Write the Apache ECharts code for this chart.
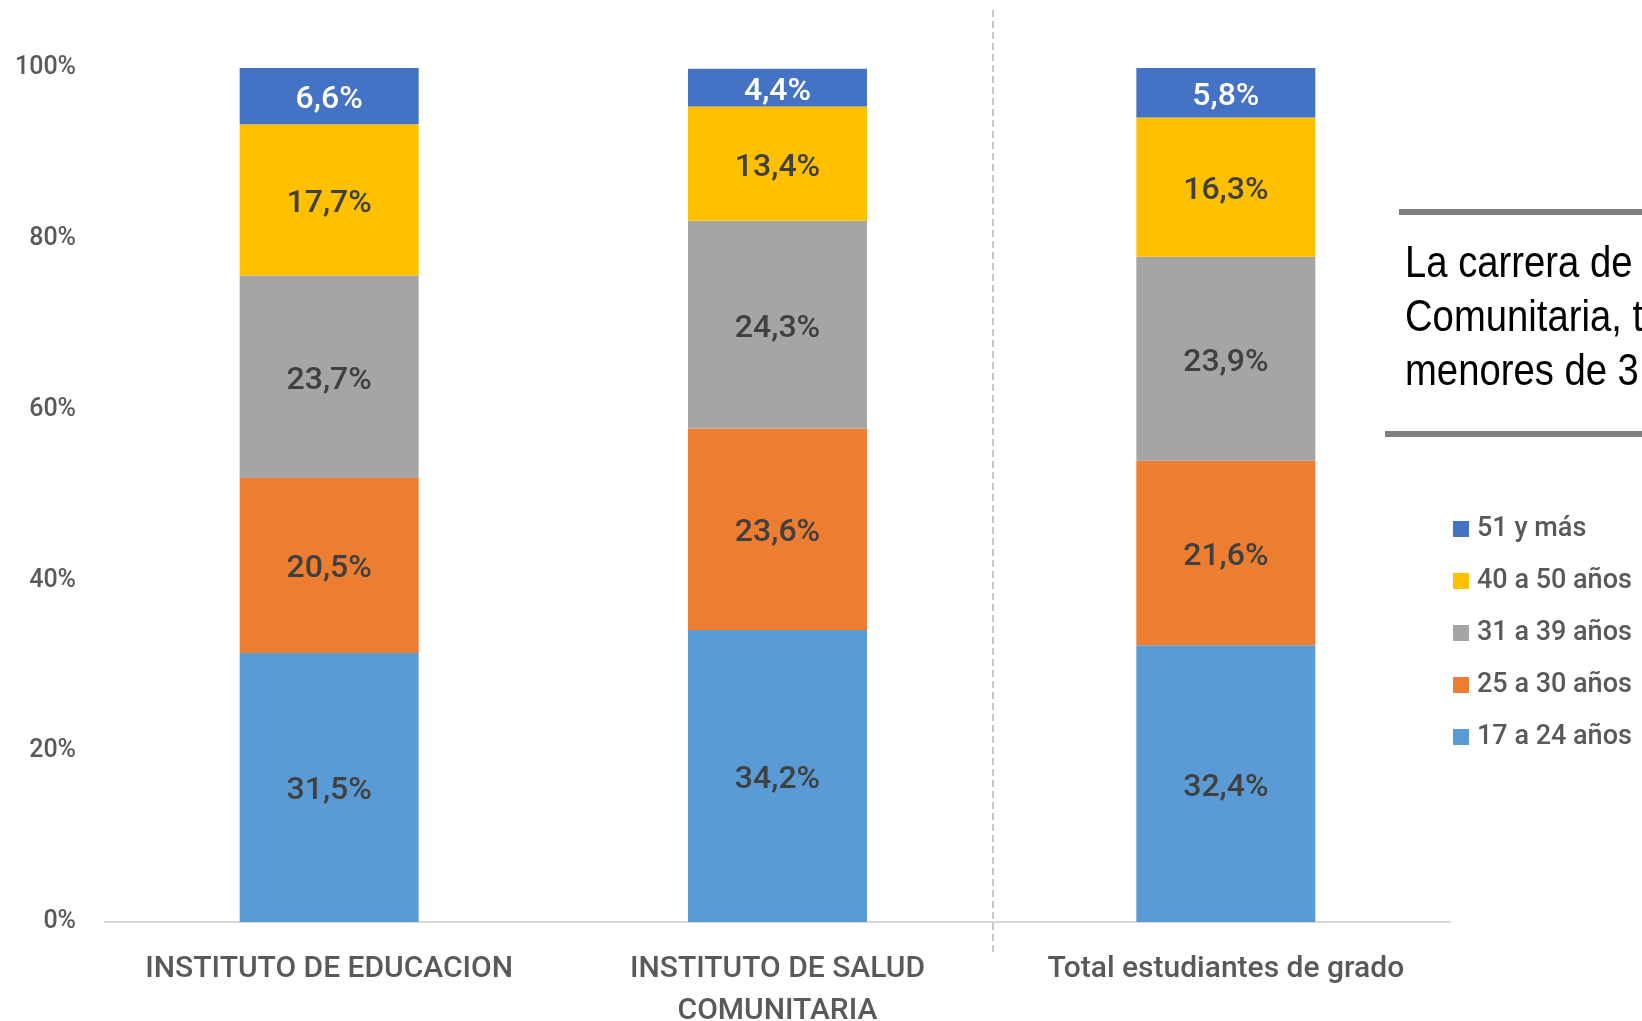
<!DOCTYPE html>
<html>
<head>
<meta charset="utf-8">
<style>
  html, body { margin: 0; padding: 0; background: #fff; }
  #chart { width: 1642px; height: 1021px; }
</style>
<script src="https://cdn.jsdelivr.net/npm/echarts@6/dist/echarts.min.js"></script>
</head>
<body>
<div id="chart"></div>
<script>
// --- datos ---
const categorias = ['INSTITUTO DE EDUCACION', 'INSTITUTO DE SALUD\nCOMUNITARIA', 'Total estudiantes de grado'];
const grupos = ['17 a 24 años', '25 a 30 años', '31 a 39 años', '40 a 50 años', '51 y más'];
const edad17a24 = [31.5, 34.2, 32.4];
const edad25a30 = [20.5, 23.6, 21.6];
const edad31a39 = [23.7, 24.3, 23.9];
const edad40a50 = [17.7, 13.4, 16.3];
const edad51mas = [6.6, 4.4, 5.8];
const ticksY = [0, 20, 40, 60, 80, 100];
const textoNota = ['La carrera de', 'Comunitaria, t', 'menores de 3'];

const colores = ['#5B9BD5', '#ED7D31', '#A5A5A5', '#FFC000', '#4472C4'];
const valores = [edad17a24, edad25a30, edad31a39, edad40a50, edad51mas];

const chart = echarts.init(document.getElementById('chart'));

function fmt(v) {
    return v.toFixed(1).replace('.', ',') + '%';
}

const series = grupos.map((g, i) => ({
    name: g,
    type: 'bar',
    stack: 'total',
    barWidth: 179,
    data: valores[i],
    itemStyle: { color: colores[i] },
    label: {
        show: true,
        position: 'inside',
        offset: [0, 4],
        formatter: (p) => fmt(p.value),
        color: i === 4 ? '#ffffff' : '#404040',
        fontFamily: 'Roboto',
        fontWeight: 500,
        fontSize: 32
    }
}));

// nota lateral (texto recortado por el borde)
const notas = textoNota.map((t, i) => ({
    type: 'text',
    x: 1405,
    y: 265 + i * 54,
    scaleX: 0.85,
    style: {
        text: t,
        font: '45px "Liberation Sans"',
        fill: '#000000',
        verticalAlign: 'middle'
    }
}));

chart.setOption({
    animation: false,
    grid: { left: 105, right: 192, top: 68, bottom: 99, outerBoundsMode: 'none' },
    legend: {
        orient: 'vertical',
        left: 1448,
        top: 510,
        itemWidth: 16,
        itemHeight: 16,
        itemGap: 24,
        icon: 'rect',
        data: grupos.slice().reverse(),
        textStyle: {
            color: '#595959',
            fontFamily: 'Roboto',
            fontWeight: 500,
            fontSize: 27,
            lineHeight: 28,
            padding: [0, 0, 0, 3]
        }
    },
    xAxis: {
        type: 'category',
        data: categorias,
        axisLine: { lineStyle: { color: '#d9d9d9', width: 2 } },
        axisTick: { show: false },
        axisLabel: {
            color: '#595959',
            fontFamily: 'Roboto',
            fontWeight: 500,
            fontSize: 30,
            lineHeight: 42,
            margin: 26,
            interval: 0
        }
    },
    yAxis: {
        type: 'value',
        min: 0,
        max: 100,
        interval: 20,
        splitLine: { show: false },
        axisLine: { show: false },
        axisLabel: {
            color: '#595959',
            fontFamily: 'Roboto',
            fontWeight: 500,
            fontSize: 25,
            margin: 29,
            padding: [6, 0, 0, 0],
            formatter: (v) => ticksY.includes(v) ? v + '%' : ''
        }
    },
    series: series,
    graphic: [
        {
            type: 'line',
            shape: { x1: 993, y1: 10, x2: 993, y2: 955 },
            style: { stroke: '#c8c8c8', lineWidth: 2, lineDash: [7, 4] }
        },
        {
            type: 'line',
            shape: { x1: 1399, y1: 212, x2: 1642, y2: 212 },
            style: { stroke: '#7f7f7f', lineWidth: 6 }
        },
        {
            type: 'line',
            shape: { x1: 1385, y1: 434, x2: 1642, y2: 434 },
            style: { stroke: '#7f7f7f', lineWidth: 6 }
        }
    ].concat(notas)
});
</script>
</body>
</html>
